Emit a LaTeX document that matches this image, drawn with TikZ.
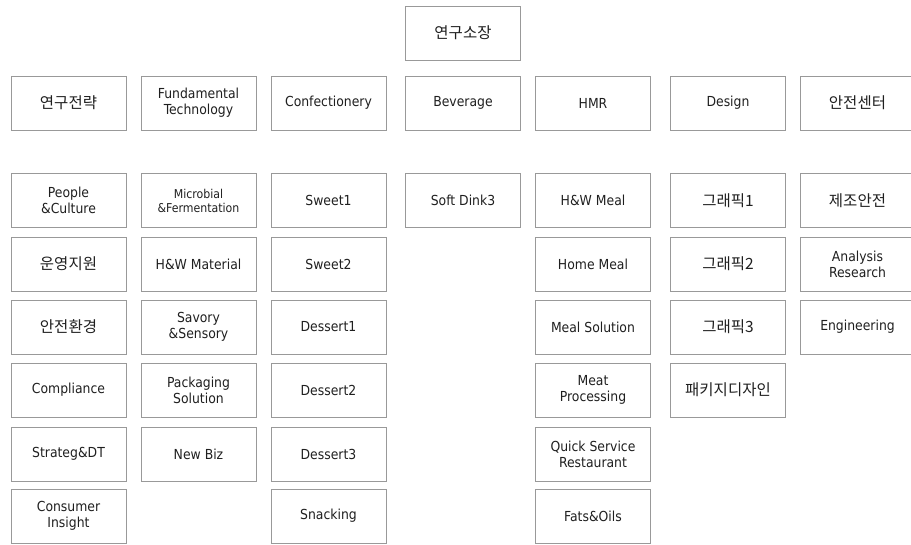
\documentclass[tikz,border=0pt]{standalone}
\usepackage{fontspec}
\setmainfont{DejaVu Sans Condensed}
\newfontfamily\kr{Noto Sans CJK KR}
\usepackage{xcolor}

\begin{document}
\begin{tikzpicture}[x=1pt,y=-1pt]
    	\colorlet{boxcolor}{black!40}
    	\colorlet{labelcolor}{black!88}
    	\tikzset{unitbox/.style={draw=boxcolor,line width=0.9pt,minimum width=115pt,
    	  minimum height=54pt,inner sep=0pt,align=center,text=labelcolor,
    	  font=\fontsize{13.8}{16}\selectfont}}
    	\tikzset{krbox/.style={unitbox,font=\kr\fontsize{15.5}{17}\selectfont}}
    	\tikzset{smallbox/.style={unitbox,font=\fontsize{12.2}{14}\selectfont}}

    	\useasboundingbox (0,0) rectangle (911,545);

    	% top
    	\node[krbox] (head) at (463,33) {연구소장};

    	% divisions
    	\node[krbox] (strat) at (68.5,103) {연구전략};
    	\node[unitbox] (fund) at (198.5,103) {Fundamental\\Technology};
    	\node[unitbox] (conf) at (328.5,103) {Confectionery};
    	\node[unitbox] (bev) at (463,103) {Beverage};
    	\node[unitbox] (hmr) at (593,103) {HMR};
    	\node[unitbox] (design) at (728,103) {Design};
    	\node[krbox] (safety) at (857.5,103) {안전센터};

    	% 연구전략
    	\node[unitbox] (people) at (68.5,200.5) {People\\\&Culture};
    	\node[krbox] (support) at (68.5,264) {운영지원};
    	\node[krbox] (env) at (68.5,327) {안전환경};
    	\node[unitbox] (compl) at (68.5,390) {Compliance};
    	\node[unitbox] (dt) at (68.5,454) {Strateg\&DT};
    	\node[unitbox] (insight) at (68.5,516) {Consumer\\Insight};

    	% Fundamental Technology
    	\node[smallbox] (micro) at (198.5,200.5) {Microbial\\\&Fermentation};
    	\node[unitbox] (hwmat) at (198.5,264) {H\&W Material};
    	\node[unitbox] (savory) at (198.5,327) {Savory\\\&Sensory};
    	\node[unitbox] (pack) at (198.5,390) {Packaging\\Solution};
    	\node[unitbox] (newbiz) at (198.5,454) {New Biz};

    	% Confectionery
    	\node[unitbox] (sweeta) at (328.5,200.5) {Sweet1};
    	\node[unitbox] (sweetb) at (328.5,264) {Sweet2};
    	\node[unitbox] (desserta) at (328.5,327) {Dessert1};
    	\node[unitbox] (dessertb) at (328.5,390) {Dessert2};
    	\node[unitbox] (dessertc) at (328.5,454) {Dessert3};
    	\node[unitbox] (snack) at (328.5,516) {Snacking};

    	% Beverage
    	\node[unitbox] (soft) at (463,200.5) {Soft Dink3};

    	% HMR
    	\node[unitbox] (hwmeal) at (593,200.5) {H\&W Meal};
    	\node[unitbox] (home) at (593,264) {Home Meal};
    	\node[unitbox] (solution) at (593,327) {Meal Solution};
    	\node[unitbox] (meat) at (593,390) {Meat\\Processing};
    	\node[unitbox] (qsr) at (593,454) {Quick Service\\Restaurant};
    	\node[unitbox] (fats) at (593,516) {Fats\&Oils};

    	% Design
    	\node[krbox] (gfxa) at (728,200.5) {그래픽1};
    	\node[krbox] (gfxb) at (728,264) {그래픽2};
    	\node[krbox] (gfxc) at (728,327) {그래픽3};
    	\node[krbox] (pkgdesign) at (728,390) {패키지디자인};

    	% 안전센터
    	\node[krbox] (plant) at (857.5,200.5) {제조안전};
    	\node[unitbox] (analysis) at (857.5,264) {Analysis\\Research};
    	\node[unitbox] (eng) at (857.5,327) {Engineering};
    \end{tikzpicture}
\end{document}
